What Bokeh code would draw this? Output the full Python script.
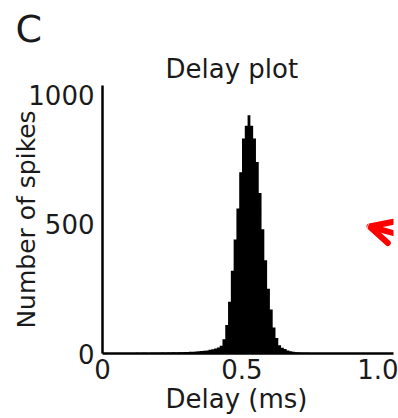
from bokeh.plotting import figure
from bokeh.models import Arrow, OpenHead, Range1d, Title
from bokeh.embed import file_html
from bokeh.resources import INLINE

# Histogram of spike delays (bin width 0.01 ms)
bin_width = 0.01
bin_centers = [round(0.005 + bin_width * i, 3) for i in range(100)]
counts = [
    0, 1, 1, 1, 1, 2, 1, 2, 2, 2,
    2, 2, 3, 2, 3, 3, 2, 3, 3, 3,
    3, 4, 3, 4, 4, 5, 4, 5, 5, 6,
    6, 7, 7, 8, 9, 10, 11, 12, 14, 16,
    19, 23, 30, 55, 110, 200, 320, 440, 560, 700,
    830, 880, 920, 880, 830, 740, 620, 480, 360, 250,
    170, 100, 60, 32, 22, 17, 12, 9, 7, 5,
    4, 3, 3, 3, 2, 2, 2, 2, 1, 2,
    1, 1, 1, 2, 1, 1, 1, 0, 1, 1,
    0, 1, 1, 0, 1, 0, 0, 1, 0, 0,
]
x_ticks = [0, 0.5, 1.0]
x_tick_labels = {0: "0", 0.5: "0.5", 1.0: "1.0"}
y_ticks = [0, 500, 1000]

panel_letter = "C"
title_text = "Delay plot"
x_label = "Delay (ms)"
y_label = "Number of spikes"

FONT = "DejaVu Sans"
TXT = "#1a1a1a"

W, H = 398, 418
p = figure(width=W, height=H, output_backend="svg", toolbar_location=None,
           x_range=Range1d(0, 1.043), y_range=Range1d(0, 1035),
           min_border_left=102, min_border_right=5, min_border_top=85, min_border_bottom=65)
p.outline_line_color = None
p.xgrid.visible = False
p.ygrid.visible = False
p.background_fill_color = "white"

p.varea_step(x=bin_centers, y1=[0] * len(counts), y2=counts, step_mode="center",
             fill_color="black")

for ax in (p.xaxis[0], p.yaxis[0]):
    ax.axis_line_width = 2.5
    ax.axis_line_color = "black"
    ax.major_tick_line_color = None
    ax.minor_tick_line_color = None
    ax.major_tick_out = 0
    ax.major_tick_in = 0
    ax.major_label_text_font = FONT
    ax.major_label_text_font_size = "26px"
    ax.major_label_text_color = TXT

p.xaxis.ticker = x_ticks
p.xaxis.major_label_overrides = x_tick_labels
p.xaxis.major_label_standoff = 5
p.yaxis.ticker = y_ticks
p.yaxis.major_label_standoff = 8
p.yaxis.axis_label = y_label
p.yaxis.axis_label_standoff = -16
p.yaxis.axis_label_text_font = FONT
p.yaxis.axis_label_text_font_size = "25px"
p.yaxis.axis_label_text_font_style = "normal"
p.yaxis.axis_label_text_color = TXT

# Panel letter: outermost title
p.title.text = panel_letter
p.title.align = "left"
p.title.offset = -87
p.title.standoff = 0
p.title.text_font = FONT
p.title.text_font_size = "38px"
p.title.text_font_style = "normal"
p.title.text_color = TXT

# Plot title, directly above the frame
p.add_layout(Title(text=title_text, align="left", offset=63, standoff=3,
                   text_font=FONT, text_font_size="26px", text_font_style="normal",
                   text_color=TXT), "above")

# x-axis label as a title below the tick labels
p.add_layout(Title(text=x_label, align="left", offset=63, standoff=0,
                   text_font=FONT, text_font_size="26px", text_font_style="normal",
                   text_color=TXT), "below")

p.add_layout(Arrow(end=OpenHead(size=22, line_color="#ff0000", line_width=6, line_cap="round"),
                   start_units="canvas", end_units="canvas",
                   x_start=398, y_start=234, x_end=369, y_end=226,
                   line_color="#ff0000", line_width=6, line_cap="round"))

open("out.html", "w").write(file_html(p, INLINE))
